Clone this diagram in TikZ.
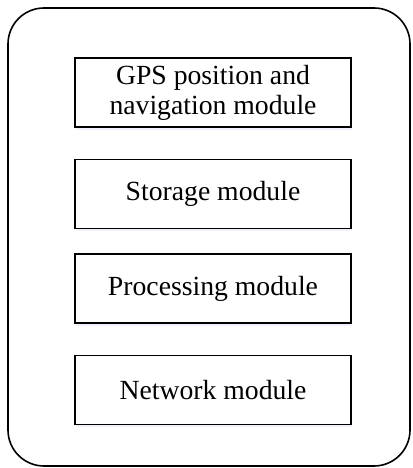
\documentclass[tikz,border=0pt]{standalone}
\usepackage{fontspec}
\setmainfont{Liberation Serif}
\usetikzlibrary{shadows}

\tikzset{
    module/.style={draw, line width=1.4pt, fill=white, minimum width=276pt, minimum height=69pt,
        align=center, font=\fontsize{27.7}{30}\selectfont,
        general shadow={fill=blue!6, shadow xshift=1pt, shadow yshift=-3pt}}
}

\begin{document}
\begin{tikzpicture}[x=1pt, y=1pt]
        \useasboundingbox (0, 0) rectangle (412, 468);
        \draw[line width=1.6pt, rounded corners=36pt] (8, 2) rectangle (410, 460);

        \node[module] (gps) at (213, 375.5) {GPS position and\\navigation module};
        \node[module] (storage) at (213, 274) {Storage module};
        \node[module] (processing) at (213, 179.5) {Processing module};
        \node[module] (network) at (213, 78) {Network module};
    \end{tikzpicture}
\end{document}
